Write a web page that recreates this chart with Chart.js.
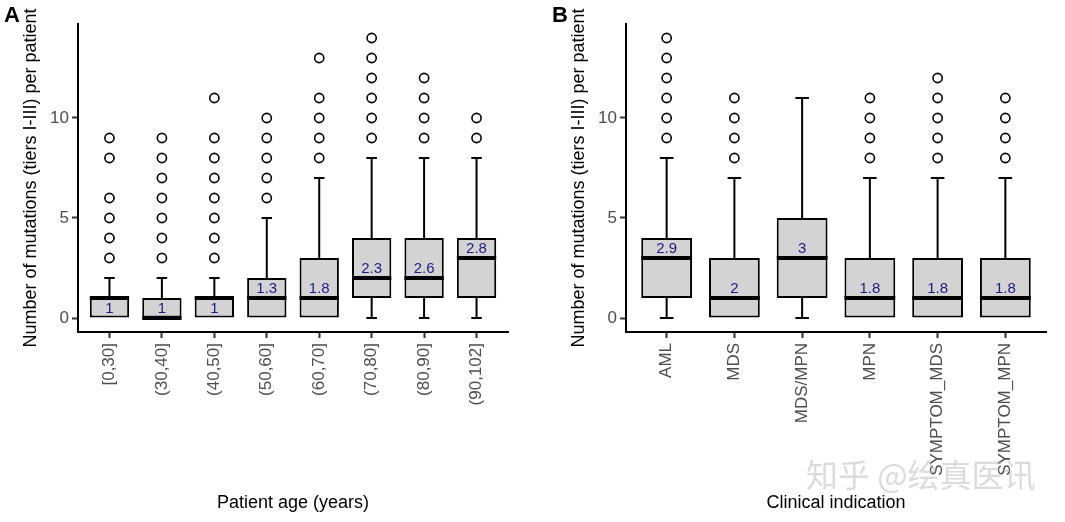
<!DOCTYPE html>
<html><head><meta charset="utf-8">
<script src="https://cdn.jsdelivr.net/npm/chart.js@4"></script>
<style>
html,body{margin:0;padding:0;background:#fff;width:1065px;height:522px;overflow:hidden;position:relative;font-family:"Liberation Sans",Arial,sans-serif}
canvas{position:absolute;top:0}
#cA{left:0}
#cB{left:530px}
.pl{position:absolute;font-weight:bold;font-size:22px;color:#000;line-height:1;font-family:"Liberation Sans",Arial,sans-serif}
#wm{position:absolute;left:806px;top:457px;font-family:"Noto Sans CJK SC";font-size:32px;line-height:1;color:rgba(170,170,170,0.42);white-space:nowrap}
</style></head><body>
<canvas id="cA" width="530" height="522"></canvas>
<canvas id="cB" width="535" height="522"></canvas>
<div class="pl" style="left:4px;top:4px">A</div>
<div class="pl" style="left:552px;top:4px">B</div>
<div id="wm">知乎 @绘真医讯</div>
<script>
// ---- Panel A data ----
const ageGroups = ["[0,30]","(30,40]","(40,50]","(50,60]","(60,70]","(70,80]","(80,90]","(90,102]"];
const ageQ1 = [0,0,0,0,0,1,1,1];
const ageMedian = [1,0,1,1,1,2,2,3];
const ageQ3 = [1,1,1,2,3,4,4,4];
const ageLow = [0,0,0,0,0,0,0,0];
const ageHigh = [2,2,2,5,7,8,8,8];
const ageMean = [1,1,1,1.3,1.8,2.3,2.6,2.8];
const ageOutliers = [[3,4,5,6,8,9],[3,4,5,6,7,8,9],[3,4,5,6,7,8,9,11],[6,7,8,9,10],[8,9,10,11,13],[9,10,11,12,13,14],[9,10,11,12],[9,10]];

// ---- Panel B data ----
const indications = ["AML","MDS","MDS/MPN","MPN","SYMPTOM_MDS","SYMPTOM_MPN"];
const indQ1 = [1,0,1,0,0,0];
const indMedian = [3,1,3,1,1,1];
const indQ3 = [4,3,5,3,3,3];
const indLow = [0,0,0,0,0,0];
const indHigh = [8,7,11,7,7,7];
const indMean = [2.9,2,3,1.8,1.8,1.8];
const indOutliers = [[9,10,11,12,13,14],[8,9,10,11],[],[8,9,10,11],[8,9,10,11,12],[8,9,10,11]];

const yTicks = [0,5,10];
const yTitle = "Number of mutations (tiers I-III) per patient";
const FAM = '"Liberation Sans", Arial, sans-serif';

const boxPlugin = {
  id: 'boxdraw',
  beforeDatasetsDraw(chart, args, o) {
    const {ctx, scales: {x, y}} = chart;
    const unit = x.getPixelForValue(2) - x.getPixelForValue(1);
    ctx.save();
    ctx.strokeStyle = '#000';
    ctx.lineWidth = 2;
    o.q1.forEach((q, i) => {
      const cx = x.getPixelForValue(i + 1);
      const half = unit * 0.1;
      ctx.beginPath();
      ctx.moveTo(cx, y.getPixelForValue(o.q3[i]));
      ctx.lineTo(cx, y.getPixelForValue(o.hi[i]));
      ctx.moveTo(cx - half, y.getPixelForValue(o.hi[i]));
      ctx.lineTo(cx + half, y.getPixelForValue(o.hi[i]));
      if (o.lo[i] < q) {
        ctx.moveTo(cx, y.getPixelForValue(q));
        ctx.lineTo(cx, y.getPixelForValue(o.lo[i]));
        ctx.moveTo(cx - half, y.getPixelForValue(o.lo[i]));
        ctx.lineTo(cx + half, y.getPixelForValue(o.lo[i]));
      }
      ctx.stroke();
    });
    ctx.restore();
  },
  afterDatasetsDraw(chart, args, o) {
    const {ctx, scales: {x, y}} = chart;
    const meta = chart.getDatasetMeta(0);
    ctx.save();
    ctx.strokeStyle = '#000';
    ctx.lineWidth = 4;
    o.med.forEach((m, i) => {
      const bar = meta.data[i];
      const yy = y.getPixelForValue(m);
      ctx.beginPath();
      ctx.moveTo(bar.x - bar.width / 2, yy);
      ctx.lineTo(bar.x + bar.width / 2, yy);
      ctx.stroke();
    });
    ctx.fillStyle = '#1c1c88';
    ctx.font = '15px ' + FAM;
    ctx.textAlign = 'center';
    ctx.textBaseline = 'middle';
    o.mean.forEach((mv, i) => {
      const lv = o.q3[i] > o.med[i] ? o.med[i] + 0.5 : o.med[i] - 0.5;
      ctx.fillText(String(mv), x.getPixelForValue(i + 1), y.getPixelForValue(lv) + 1);
    });
    ctx.restore();
  }
};

function makeChart(id, cats, q1, med, q3, lo, hi, mean, outs, xTitle, yAxisW, rightPad, yTitlePad) {
  const boxes = cats.map((c, i) => ({x: i + 1, y: [q1[i], q3[i]]}));
  const pts = [];
  outs.forEach((arr, i) => arr.forEach(v => pts.push({x: i + 1, y: v})));
  return new Chart(document.getElementById(id), {
    type: 'scatter',
    data: {
      datasets: [
        {type: 'bar', data: boxes, backgroundColor: '#d3d3d3', borderColor: '#000', borderWidth: 2,
         borderSkipped: false, barPercentage: 0.75, categoryPercentage: 1, order: 1},
        {type: 'scatter', data: pts, pointRadius: 4.6, pointBackgroundColor: '#fff', pointBorderColor: '#000',
         pointBorderWidth: 1.6, showLine: false, order: 0}
      ]
    },
    options: {
      responsive: false, animation: false, devicePixelRatio: 1,
      layout: {padding: {left: 0, right: rightPad, top: 24, bottom: 0}},
      plugins: {legend: {display: false}, tooltip: {enabled: false},
        boxdraw: {q1, med, q3, lo, hi, mean}},
      scales: {
        x: {
          type: 'linear', min: 0.4, max: cats.length + 0.6, offset: false,
          afterBuildTicks: s => { s.ticks = cats.map((c, i) => ({value: i + 1})); },
          afterFit: s => { s.height = 190; },
          ticks: {callback: v => cats[v - 1], autoSkip: false, minRotation: 90, maxRotation: 90,
            color: '#4d4d4d', font: {family: FAM, size: 17}, padding: 5},
          grid: {display: true, offset: false, drawOnChartArea: false, drawTicks: true, tickLength: 6,
            tickColor: '#333', tickWidth: 2},
          border: {display: true, color: '#000', width: 2},
          title: {display: true, text: xTitle, color: '#000', font: {family: FAM, size: 18},
            padding: {top: 0, bottom: 8}}
        },
        y: {
          type: 'linear', min: -0.7, max: 14.7,
          afterBuildTicks: s => { s.ticks = yTicks.map(v => ({value: v})); },
          afterFit: s => { s.width = yAxisW; },
          ticks: {color: '#4d4d4d', font: {family: FAM, size: 17}, padding: 3},
          grid: {display: true, drawOnChartArea: false, drawTicks: true, tickLength: 6,
            tickColor: '#333', tickWidth: 2},
          border: {display: true, color: '#000', width: 2},
          title: {display: true, text: yTitle, color: '#000', font: {family: FAM, size: 18},
            padding: {top: yTitlePad, bottom: 0}}
        }
      }
    },
    plugins: [boxPlugin]
  });
}

makeChart('cA', ageGroups, ageQ1, ageMedian, ageQ3, ageLow, ageHigh, ageMean, ageOutliers,
  'Patient age (years)', 78, 22, 20);
makeChart('cB', indications, indQ1, indMedian, indQ3, indLow, indHigh, indMean, indOutliers,
  'Clinical indication', 96, 19, 38);
</script>
</body></html>
